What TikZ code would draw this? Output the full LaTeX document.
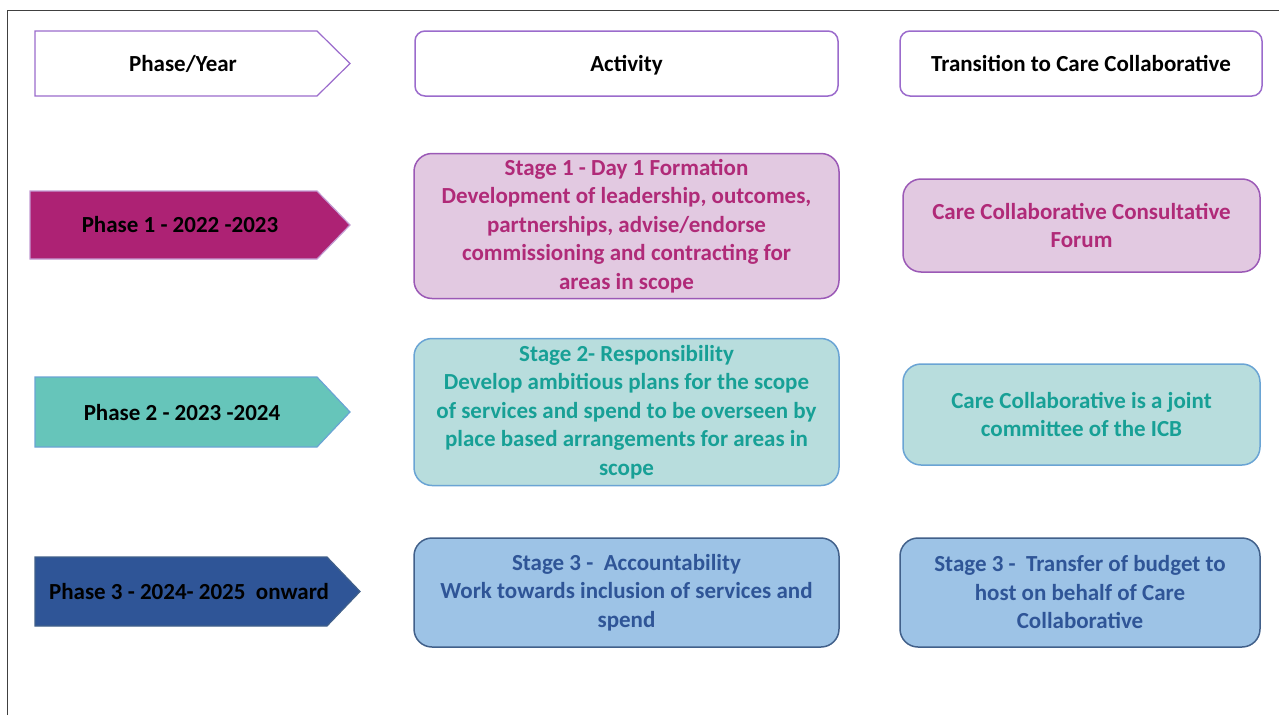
\documentclass[tikz,border=0pt]{standalone}
\usepackage{fontspec}
\setmainfont{Carlito}
\usepackage{xcolor}
\usetikzlibrary{positioning}

\definecolor{frameline}{RGB}{64,64,64}
\definecolor{headline}{RGB}{155,107,204}
\definecolor{oneback}{RGB}{173,34,116}
\definecolor{oneline}{RGB}{155,89,182}
\definecolor{onefill}{RGB}{226,201,225}
\definecolor{onetext}{RGB}{176,42,120}
\definecolor{twoback}{RGB}{102,197,186}
\definecolor{twoline}{RGB}{106,164,212}
\definecolor{twofill}{RGB}{184,221,221}
\definecolor{twotext}{RGB}{23,160,150}
\definecolor{threeback}{RGB}{47,85,151}
\definecolor{threeline}{RGB}{65,96,138}
\definecolor{threefill}{RGB}{157,195,230}
\definecolor{threetext}{RGB}{47,85,151}

\newcommand{\bodyfont}{\fontsize{23}{28.5}\selectfont\bfseries}
% pentagon arrow: style, left, top, bottom, shoulder, tip
\newcommand{\phasearrow}[6]{%
  \draw[#1] (#2,#3) -- (#5,#3) -- (#6,{(#3+#4)/2}) -- (#5,#4) -- (#2,#4) -- cycle;}

\tikzset{
    headnode/.style = {draw=headline, fill=white, rectangle, rounded corners=10pt,
      line width=1.5pt, minimum height=65pt, font=\bodyfont, text=black,
      text height=17pt, text depth=1pt},
    stagenode/.style = {draw, rectangle, rounded corners=18pt, line width=1.5pt,
      align=center, font=\bodyfont},
    textnode/.style = {draw=none, fill=none, rectangle, inner sep=0pt, align=center,
      font=\bodyfont, text=black, text height=17pt, text depth=1pt},
    arrowpath/.style = {line width=1.2pt, line join=miter},
    every text node part/.style={align=center}
}

\begin{document}
\begin{tikzpicture}[x=1pt, y=-1pt]
    \useasboundingbox (0,0) rectangle (1279,715);
    \draw[frameline, line width=1.5pt] (7.5,715) -- (7.5,10.5) -- (1279,10.5);

    % headings
    \phasearrow{arrowpath, draw=headline, fill=white}{35}{31}{96}{317}{350}
    \node [name=yearhead, textnode] at (183,63.5) {Phase/Year};
    \node [name=acthead, headnode, minimum width=423pt] at (626.5,63.5) {Activity};
    \node [name=transhead, headnode, minimum width=362pt] at (1081,63.5)
        {Transition to Care Collaborative};

    % phase 1
    \phasearrow{arrowpath, draw=oneline!60, fill=oneback}{30}{191}{259}{317}{350}
    \node [name=phaseone, textnode] at (180,224.5) {Phase 1 - 2022 -2023};
    \node [name=stageone, stagenode, draw=oneline, fill=onefill, text=onetext,
        minimum width=425pt, minimum height=145pt] at (626.5,226)
        {Stage 1 - Day 1 Formation\\Development of leadership, outcomes,\\
         partnerships, advise/endorse\\commissioning and contracting for\\areas in scope};
    \node [name=forum, stagenode, draw=oneline, fill=onefill, text=onetext,
        minimum width=357pt, minimum height=93pt] at (1081.5,225.5)
        {Care Collaborative Consultative\\Forum};

    % phase 2
    \phasearrow{arrowpath, draw=twoline, fill=twoback}{35}{377}{447}{317}{350}
    \node [name=phasetwo, textnode] at (182,412) {Phase 2 - 2023 -2024};
    \node [name=stagetwo, stagenode, draw=twoline, fill=twofill, text=twotext,
        minimum width=425pt, minimum height=147pt] at (626.5,412)
        {Stage 2- Responsibility\\Develop ambitious plans for the scope\\
         of services and spend to be overseen by\\place based arrangements for areas in\\scope};
    \node [name=icb, stagenode, draw=twoline, fill=twofill, text=twotext,
        minimum width=357pt, minimum height=101pt] at (1081.5,414.5)
        {Care Collaborative is a joint\\committee of the ICB};

    % phase 3
    \phasearrow{arrowpath, draw=threeline, fill=threeback}{35}{557}{626}{327}{360}
    \node [name=phasethree, textnode] at (189,591.5) {Phase 3 - 2024- 2025~ onward};
    \node [name=stagethree, stagenode, draw=threeline, fill=threefill, text=threetext,
        minimum width=425pt, minimum height=109pt] at (626.5,592.5)
        {Stage 3 -~ Accountability\\Work towards inclusion of services and\\spend};
    \node [name=budget, stagenode, draw=threeline, fill=threefill, text=threetext,
        minimum width=360pt, minimum height=109pt] at (1080,592.5)
        {Stage 3 -~ Transfer of budget to\\host on behalf of Care\\Collaborative};
\end{tikzpicture}
\end{document}
